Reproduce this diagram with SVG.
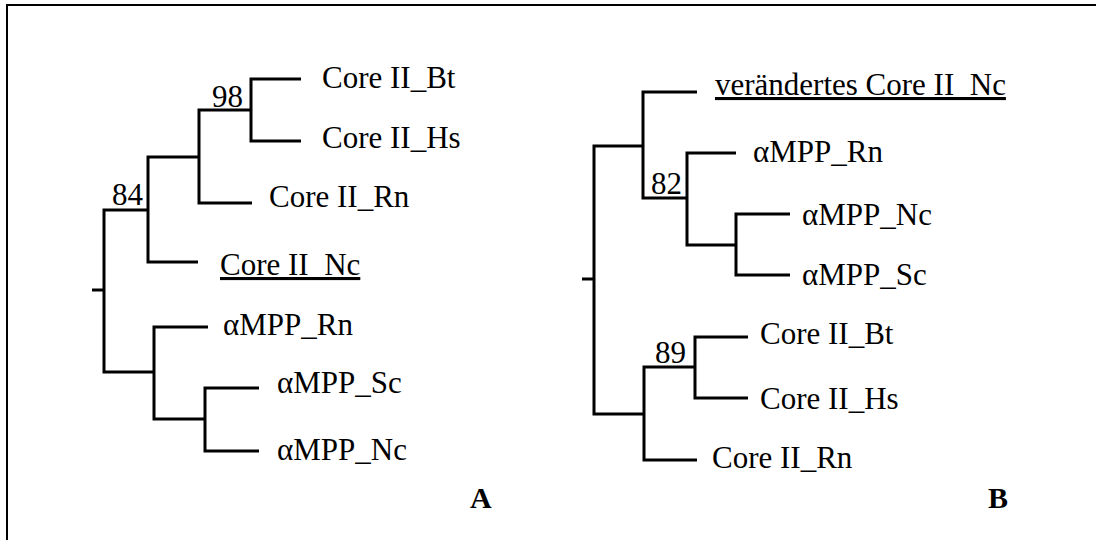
<svg xmlns="http://www.w3.org/2000/svg" width="1096" height="540" viewBox="0 0 1096 540">
<style>
.t{font-family:"Liberation Serif","Times New Roman",serif;font-size:31px;fill:#000}
.b{font-family:"Liberation Serif","Times New Roman",serif;font-size:30px;font-weight:bold;fill:#000}
.u{text-decoration:underline}
.br{fill:none;stroke:#000;stroke-width:3;stroke-linejoin:miter;stroke-linecap:butt}
.fr{fill:none;stroke:#000;stroke-width:2}
</style>
<rect width="1096" height="540" fill="#fff"/>
<path class="fr" d="M7,540 V5 H1096"/>
<g id="connectors">
<path class="br" d="M92,290 H104"/>
<path class="br" d="M148,210 H104 V372 H154"/>
<path class="br" d="M199,157 H148 V262 H198"/>
<path class="br" d="M251,110 H199 V203 H252"/>
<path class="br" d="M301,79 H251 V141 H301"/>
<path class="br" d="M208,327 H154 V419 H205"/>
<path class="br" d="M259,388 H205 V451 H259"/>
<path class="br" d="M582,279 H594"/>
<path class="br" d="M643,146 H594 V414 H644"/>
<path class="br" d="M697,92 H643 V198 H687"/>
<path class="br" d="M736,153 H687 V245 H736"/>
<path class="br" d="M790,214 H736 V275 H790"/>
<path class="br" d="M697,460 H644 V367 H695"/>
<path class="br" d="M748,337 H695 V398 H748"/>
</g>
<g id="treeA">
<g id="a-bt"><text class="t" x="322" y="88">Core II_Bt</text></g>
<g id="a-hs"><text class="t" x="322" y="148">Core II_Hs</text></g>
<g id="a-rn"><text class="t" x="269" y="207">Core II_Rn</text></g>
<g id="a-nc"><text class="t u" x="220" y="275">Core II_Nc</text></g>
<g id="a-mrn"><text class="t" x="223" y="335">αMPP_Rn</text></g>
<g id="a-msc"><text class="t" x="277" y="393">αMPP_Sc</text></g>
<g id="a-mnc"><text class="t" x="277" y="460">αMPP_Nc</text></g>
<g id="a-98"><text class="t" x="212" y="107">98</text></g>
<g id="a-84"><text class="t" x="112" y="205">84</text></g>
<g id="label-a"><text class="b" x="470" y="508">A</text></g>
</g>
<g id="treeB">
<g id="b-vnc"><text class="t u" x="715" y="95">verändertes Core II_Nc</text></g>
<g id="b-mrn"><text class="t" x="753" y="162">αMPP_Rn</text></g>
<g id="b-mnc"><text class="t" x="802" y="225">αMPP_Nc</text></g>
<g id="b-msc"><text class="t" x="802" y="285">αMPP_Sc</text></g>
<g id="b-bt"><text class="t" x="760" y="344">Core II_Bt</text></g>
<g id="b-hs"><text class="t" x="760" y="409">Core II_Hs</text></g>
<g id="b-rn"><text class="t" x="712" y="468">Core II_Rn</text></g>
<g id="b-82"><text class="t" x="651" y="194">82</text></g>
<g id="b-89"><text class="t" x="655" y="363">89</text></g>
<g id="label-b"><text class="b" x="988" y="508">B</text></g>
</g>
</svg>
